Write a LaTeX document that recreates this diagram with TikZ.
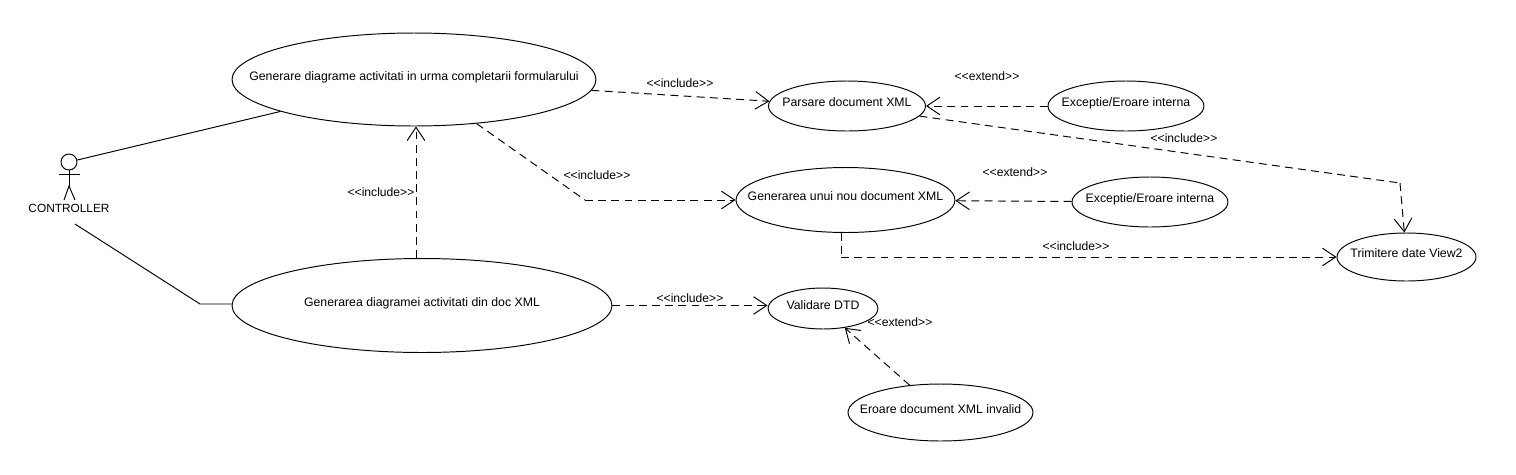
\documentclass[tikz,border=0pt]{standalone}
\usepackage{fontspec}
\setmainfont{Liberation Sans}
\usetikzlibrary{arrows.meta, shapes.geometric}
\newcommand{\inclabel}{<{}<include>{}>}
\newcommand{\extlabel}{<{}<extend>{}>}
\newcommand{\ucname}[1]{\raisebox{-0.3pt}[0pt][0pt]{\makebox[0pt]{#1}}}
\tikzset{
  usecase/.style={draw, ellipse, inner sep=0pt, font=\fontsize{7}{8}\selectfont},
  stereo/.style={inner sep=0pt, font=\fontsize{6.9}{8}\selectfont},
  dashline/.style={dash pattern=on 4.5pt off 3pt},
  dep/.style={dashline, -{Straight Barb[length=7.5pt, width=10pt]}},
}
\begin{document}
\begin{tikzpicture}[x=0.02cm, y=-0.02cm, line width=0.55pt]
  \useasboundingbox (0,0) rectangle (1516,474);
  % use cases
  \node[usecase, minimum width=7.28cm, minimum height=1.86cm] (genForm) at (414,79.5) {\ucname{Generare diagrame activitati in urma completarii formularului}};
  \node[usecase, minimum width=7.6cm, minimum height=1.88cm] (genDoc) at (422,305.5) {\ucname{Generarea diagramei activitati din doc XML}};
  \node[usecase, minimum width=3.14cm, minimum height=1cm] (parse) at (847,106) {\ucname{Parsare document XML}};
  \node[usecase, minimum width=4.38cm, minimum height=1.3cm] (newDoc) at (845.5,200) {\ucname{Generarea unui nou document XML}};
  \node[usecase, minimum width=3.12cm, minimum height=1cm] (errParse) at (1126,106) {\ucname{Exceptie/Eroare interna}};
  \node[usecase, minimum width=3.12cm, minimum height=1cm] (errNew) at (1150,202) {\ucname{Exceptie/Eroare interna}};
  \node[usecase, minimum width=2.78cm, minimum height=0.96cm] (send) at (1406.5,257) {\ucname{Trimitere date View2}};
  \node[usecase, minimum width=2.2cm, minimum height=0.82cm] (dtd) at (823,308.5) {\ucname{Validare DTD}};
  \node[usecase, minimum width=3.7cm, minimum height=1.14cm] (invalid) at (940.5,412.5) {\ucname{Eroare document XML invalid}};
  % actor
  \node[draw, circle, minimum size=0.32cm, inner sep=0pt] (head) at (69,162) {};
  \coordinate (hip) at (69,186);
  \draw (head) -- (hip);
  \draw (59,174) -- (80,174);
  \draw (64,200) -- (hip) -- (75,200);
  \node[inner sep=0pt, font=\fontsize{6.75}{8}\selectfont] (controller) at (69,208) {CONTROLLER};
  % associations
  \coordinate (actorEnd) at (75,224);
  \coordinate (actorBend) at (200,304);
  \draw (head) -- (genForm);
  \draw (actorEnd) -- (actorBend) -- (actorBend -| genDoc.west);
  % dependencies
  \coordinate (formBend) at (585,200);
  \coordinate (parseBend) at (1400,183);
  \coordinate (newBend) at (841,257);
  \coordinate (docStart) at (416,258);
  \draw[dep] (genForm) -- (parse);
  \draw[dashline] (genForm) -- (formBend);
  \draw[dep] (formBend) -- (newDoc);
  \draw[dep] (docStart) -- (docStart |- genForm.south);
  \draw[dep] (genDoc.east) -- (genDoc.east -| dtd.west);
  \draw[dep] (errParse) -- (parse);
  \draw[dep] (errNew) -- (newDoc);
  \draw[dashline] (parse) -- (parseBend);
  \draw[dep] (parseBend) -- (send);
  \draw[dashline] (newBend |- newDoc.south) -- (newBend);
  \draw[dep] (newBend) -- (send);
  \draw[dep] (invalid) -- (dtd);
  % stereotypes
  \node[stereo] (inclParse) at (680,83) {\inclabel};
  \node[stereo] (inclNew) at (597,175) {\inclabel};
  \node[stereo] (inclForm) at (381,192) {\inclabel};
  \node[stereo] (inclSend) at (1184,138) {\inclabel};
  \node[stereo] (inclNewSend) at (1076,246) {\inclabel};
  \node[stereo] (inclDtd) at (690,298) {\inclabel};
  \node[stereo] (extParse) at (987,76) {\extlabel};
  \node[stereo] (extNew) at (1015,172) {\extlabel};
  \node[stereo] (extDtd) at (900,322) {\extlabel};
\end{tikzpicture}
\end{document}
